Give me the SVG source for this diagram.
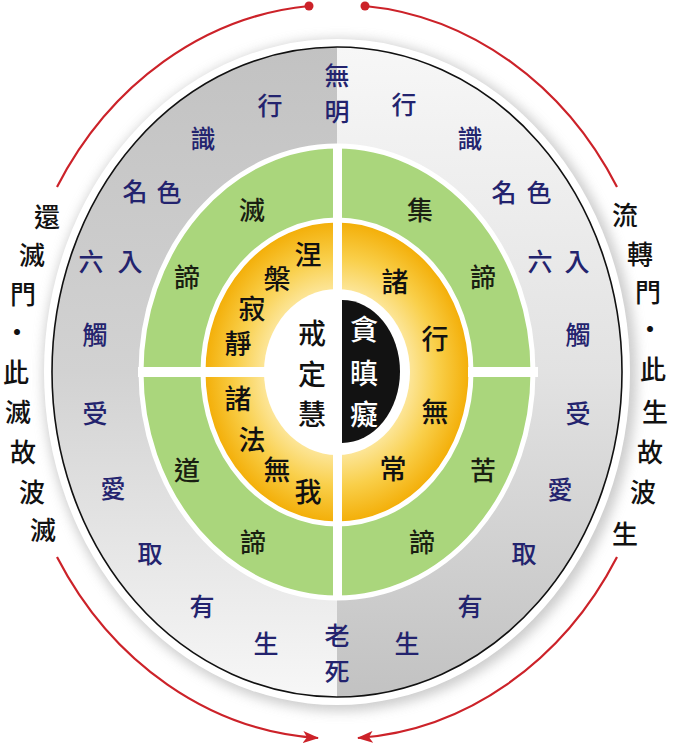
<svg xmlns="http://www.w3.org/2000/svg" width="677" height="747" viewBox="0 0 677 747">
<defs>
<style>
text{font-family:"Noto Sans CJK TC","Noto Sans CJK SC",sans-serif;text-anchor:middle;dominant-baseline:central;font-weight:500}
.o{font-size:25px;fill:#23236e}
.g{font-size:26px;fill:#1a1f12}
.y{font-size:27px;fill:#111}
.c{font-size:28px;fill:#111}
.w{font-size:28px;fill:#fff}
.s{font-size:26px;fill:#111}
.arc{fill:none;stroke:#cc2229;stroke-width:2.2}
</style>
<linearGradient id="gl" x1="0" y1="0" x2="0" y2="1">
<stop offset="0" stop-color="#c2c2c2"/>
<stop offset="0.5" stop-color="#d2d2d2"/>
<stop offset="1" stop-color="#f7f7f7"/>
</linearGradient>
<linearGradient id="gr" x1="0" y1="0" x2="0" y2="1">
<stop offset="0" stop-color="#f7f7f7"/>
<stop offset="0.5" stop-color="#e2e2e2"/>
<stop offset="1" stop-color="#c2c2c2"/>
</linearGradient>
<radialGradient id="og" cx="0.5" cy="0.5" r="0.5">
<stop offset="0.5" stop-color="#fdeaa8"/>
<stop offset="0.75" stop-color="#f9cf4a"/>
<stop offset="1" stop-color="#f3ad05"/>
</radialGradient>
<filter id="sh" x="-10%" y="-10%" width="120%" height="120%">
<feGaussianBlur stdDeviation="6"/>
</filter>
<marker id="ah" viewBox="0 0 16 12" refX="15" refY="6" markerWidth="16" markerHeight="12" markerUnits="userSpaceOnUse" orient="auto">
<path d="M0,0 L16,6 L0,12 L4,6 z" fill="#cc2229"/>
</marker>
</defs>
<rect width="677" height="747" fill="#fff"/>

<g id="outer-ring">
<ellipse cx="340" cy="375" rx="297" ry="336" fill="#b8b8b8" opacity="0.7" filter="url(#sh)"/>
<ellipse cx="337" cy="372" rx="293" ry="333" fill="#fff"/>
<path d="M337 47 A285 325 0 0 0 337 697 Z" fill="url(#gl)"/>
<path d="M337 47 A285 325 0 0 1 337 697 Z" fill="url(#gr)"/>
<ellipse cx="337" cy="372" rx="285" ry="325" fill="none" stroke="#111" stroke-width="1.6"/>
<text class="o" x="337" y="74">無</text>
<text class="o" x="337" y="110">明</text>
<text class="o" x="270" y="104">行</text>
<text class="o" x="203" y="137">識</text>
<text class="o" x="135" y="190">名</text>
<text class="o" x="169" y="191">色</text>
<text class="o" x="91" y="260">六</text>
<text class="o" x="130" y="260">入</text>
<text class="o" x="95" y="333">觸</text>
<text class="o" x="95" y="412">受</text>
<text class="o" x="113" y="487">愛</text>
<text class="o" x="150" y="552">取</text>
<text class="o" x="202" y="605">有</text>
<text class="o" x="266" y="642">生</text>
<text class="o" x="337" y="634">老</text>
<text class="o" x="337" y="670">死</text>
<text class="o" x="404" y="103">行</text>
<text class="o" x="470" y="137">識</text>
<text class="o" x="504" y="191">名</text>
<text class="o" x="539" y="191">色</text>
<text class="o" x="540" y="260">六</text>
<text class="o" x="577" y="260">入</text>
<text class="o" x="578" y="333">觸</text>
<text class="o" x="578" y="412">受</text>
<text class="o" x="560" y="488">愛</text>
<text class="o" x="524" y="552">取</text>
<text class="o" x="470" y="605">有</text>
<text class="o" x="407" y="642">生</text>
</g>

<g id="green-ring">
<ellipse cx="337" cy="372" rx="196" ry="226" fill="#aad67c" stroke="#fff" stroke-width="5"/>
<text class="g" x="252" y="208">滅</text>
<text class="g" x="420" y="208">集</text>
<text class="g" x="187" y="275">諦</text>
<text class="g" x="483" y="275">諦</text>
<text class="g" x="187" y="468">道</text>
<text class="g" x="483" y="468">苦</text>
<text class="g" x="253" y="540">諦</text>
<text class="g" x="422" y="540">諦</text>
</g>

<g id="orange-ring">
<ellipse cx="337" cy="372" rx="134" ry="152" fill="url(#og)" stroke="#fff" stroke-width="5"/>
<text class="y" x="308" y="253">涅</text>
<text class="y" x="277" y="277">槃</text>
<text class="y" x="252" y="307">寂</text>
<text class="y" x="238" y="342">靜</text>
<text class="y" x="238" y="397">諸</text>
<text class="y" x="252" y="438">法</text>
<text class="y" x="277" y="468">無</text>
<text class="y" x="308" y="490">我</text>
<text class="y" x="395" y="280">諸</text>
<text class="y" x="435" y="337">行</text>
<text class="y" x="435" y="410">無</text>
<text class="y" x="393" y="467">常</text>
</g>

<g id="dividers">
<rect x="333" y="144" width="9" height="456" fill="#fff"/>
<rect x="138" y="367" width="130" height="10" fill="#fff"/>
<rect x="468" y="367" width="70" height="10" fill="#fff"/>
</g>

<g id="center">
<ellipse cx="337" cy="372" rx="73" ry="83" fill="#fff"/>
<path d="M342 300 A58 71.5 0 0 1 342 443 Z" fill="#121212"/>
<text class="c" x="312" y="332">戒</text>
<text class="c" x="312" y="373">定</text>
<text class="c" x="312" y="413">慧</text>
<text class="w" x="364" y="328">貪</text>
<text class="w" x="364" y="372">瞋</text>
<text class="w" x="364" y="413">癡</text>
</g>

<g id="side-left">
<text class="s" x="47" y="215">還</text>
<text class="s" x="32" y="253">滅</text>
<text class="s" x="23" y="292">門</text>
<text class="s" x="17" y="330">・</text>
<text class="s" x="16" y="370">此</text>
<text class="s" x="18" y="410">滅</text>
<text class="s" x="23" y="450">故</text>
<text class="s" x="32" y="490">波</text>
<text class="s" x="43" y="528">滅</text>
</g>

<g id="side-right">
<text class="s" x="625" y="213">流</text>
<text class="s" x="640" y="252">轉</text>
<text class="s" x="648" y="290">門</text>
<text class="s" x="650" y="327">・</text>
<text class="s" x="653" y="367">此</text>
<text class="s" x="655" y="410">生</text>
<text class="s" x="650" y="450">故</text>
<text class="s" x="643" y="490">波</text>
<text class="s" x="625" y="532">生</text>
</g>

<g id="connectors">
<path class="arc" d="M309 6 A324 367 0 0 0 57 187"/>
<path class="arc" d="M365 6 A324 367 0 0 1 617 187"/>
<path class="arc" d="M57 557 A324 367 0 0 0 318 738" marker-end="url(#ah)"/>
<path class="arc" d="M617 557 A324 367 0 0 1 358 738" marker-end="url(#ah)"/>
<circle cx="309" cy="6" r="4.5" fill="#cc2229"/>
<circle cx="365" cy="6" r="4.5" fill="#cc2229"/>
</g>
</svg>
